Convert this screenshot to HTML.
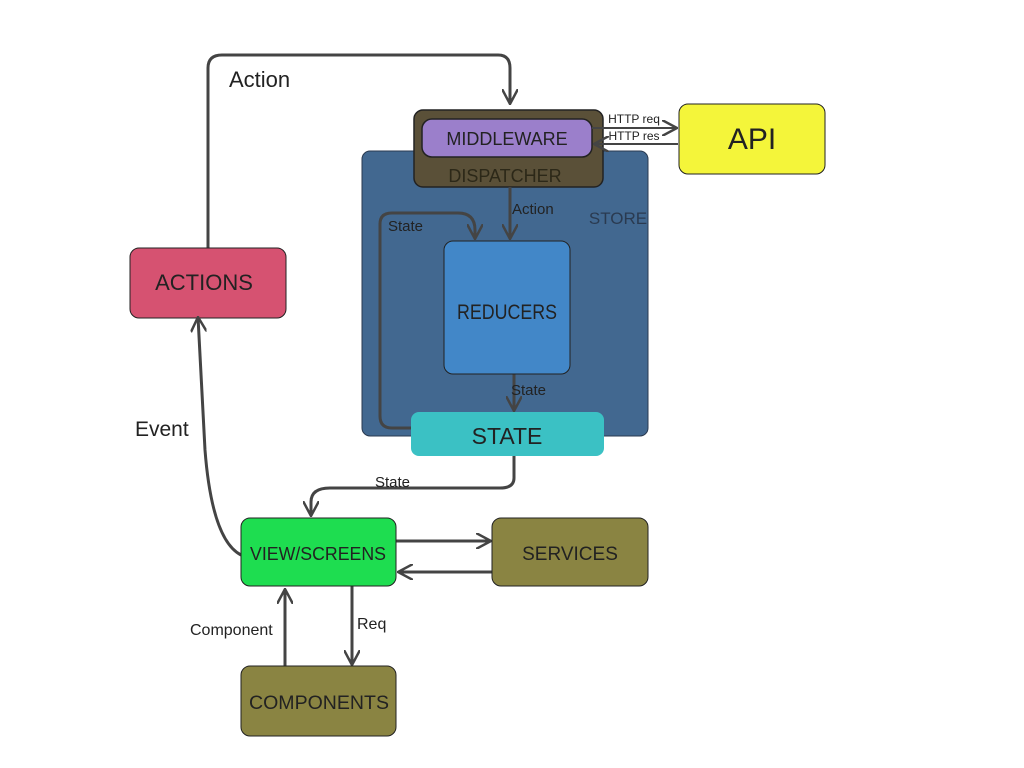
<!DOCTYPE html>
<html><head><meta charset="utf-8"><style>body{margin:0;background:#fff}svg{display:block}text{font-family:"Liberation Sans",sans-serif;fill:#222}</style></head><body>
<svg width="1024" height="768" viewBox="0 0 1024 768" xmlns="http://www.w3.org/2000/svg">
<defs><marker id="a" viewBox="0 0 16 16" refX="15" refY="8" markerWidth="16" markerHeight="16" markerUnits="userSpaceOnUse" orient="auto"><path d="M0,0 L15,8 L0,16" fill="none" stroke="#444" stroke-width="2.5"/></marker></defs>
<g fill="none" stroke="#444" stroke-width="3">
<path d="M208,248 V68 Q208,55 222,55 H498 Q510,55 510,68 V104" marker-end="url(#a)"/>
</g>
<rect x="362" y="151" width="286" height="285" rx="8" fill="#426890" stroke="#2a3a50"/>
<text x="618" y="224" font-size="17" text-anchor="middle" style="fill:#2a3a50">STORE</text>
<rect x="414" y="110" width="189" height="77" rx="9" fill="#5a5038" stroke="#222" stroke-width="1.5"/>
<text x="505" y="182" font-size="18" text-anchor="middle" style="fill:#2c2818">DISPATCHER</text>
<rect x="422" y="119" width="170" height="38" rx="10" fill="#9b7fcb" stroke="#222" stroke-width="1.5"/>
<text x="507" y="145" font-size="18" text-anchor="middle">MIDDLEWARE</text>
<g fill="none" stroke="#444" stroke-width="2">
<path d="M592,128 H677" marker-end="url(#a)"/>
<path d="M678,144 H594" marker-end="url(#a)"/>
</g>
<text x="634" y="123" font-size="12" text-anchor="middle">HTTP req</text>
<text x="634" y="140" font-size="12" text-anchor="middle">HTTP res</text>
<rect x="679" y="104" width="146" height="70" rx="9" fill="#f4f53a" stroke="#222"/>
<text x="752" y="149" font-size="30" text-anchor="middle">API</text>
<g fill="none" stroke="#444" stroke-width="3">
<path d="M510,187 V239" marker-end="url(#a)"/>
<path d="M412,428 H392 Q380,428 380,416 V224 Q380,213 392,213 H458 Q475,213 475,230 V239" marker-end="url(#a)"/>
<path d="M514,374 V411" marker-end="url(#a)"/>
</g>
<text x="512" y="214" font-size="15">Action</text>
<text x="388" y="231" font-size="15">State</text>
<text x="511" y="395" font-size="15">State</text>
<rect x="444" y="241" width="126" height="133" rx="9" fill="#4287c8" stroke="#222"/>
<text x="507" y="319" font-size="21" text-anchor="middle" textLength="100" lengthAdjust="spacingAndGlyphs">REDUCERS</text>
<rect x="411" y="412" width="193" height="44" rx="8" fill="#3bc1c4"/>
<text x="507" y="444" font-size="23" text-anchor="middle">STATE</text>
<rect x="130" y="248" width="156" height="70" rx="9" fill="#d65271" stroke="#222"/>
<text x="204" y="290" font-size="22" text-anchor="middle">ACTIONS</text>
<text x="229" y="87" font-size="22">Action</text>
<text x="135" y="436" font-size="21">Event</text>
<g fill="none" stroke="#444" stroke-width="3">
<path d="M514,456 V478 Q514,488 500,488 H330 Q311,488 311,502 V516" marker-end="url(#a)"/>
<path d="M241,555 Q212,540 205,450 L198,317" marker-end="url(#a)"/>
<path d="M396,541 H491" marker-end="url(#a)"/>
<path d="M492,572 H398" marker-end="url(#a)"/>
<path d="M285,666 V589" marker-end="url(#a)"/>
<path d="M352,586 V665" marker-end="url(#a)"/>
</g>
<text x="375" y="487" font-size="15">State</text>
<text x="190" y="635" font-size="16">Component</text>
<text x="357" y="629" font-size="16">Req</text>
<rect x="241" y="518" width="155" height="68" rx="9" fill="#1edd50" stroke="#222"/>
<text x="318" y="560" font-size="18" text-anchor="middle" textLength="136" lengthAdjust="spacingAndGlyphs">VIEW/SCREENS</text>
<rect x="492" y="518" width="156" height="68" rx="9" fill="#8a8442" stroke="#222"/>
<text x="570" y="560" font-size="19" text-anchor="middle">SERVICES</text>
<rect x="241" y="666" width="155" height="70" rx="9" fill="#8a8442" stroke="#222"/>
<text x="319" y="709" font-size="19" text-anchor="middle" textLength="140" lengthAdjust="spacingAndGlyphs">COMPONENTS</text>
</svg>
</body></html>
